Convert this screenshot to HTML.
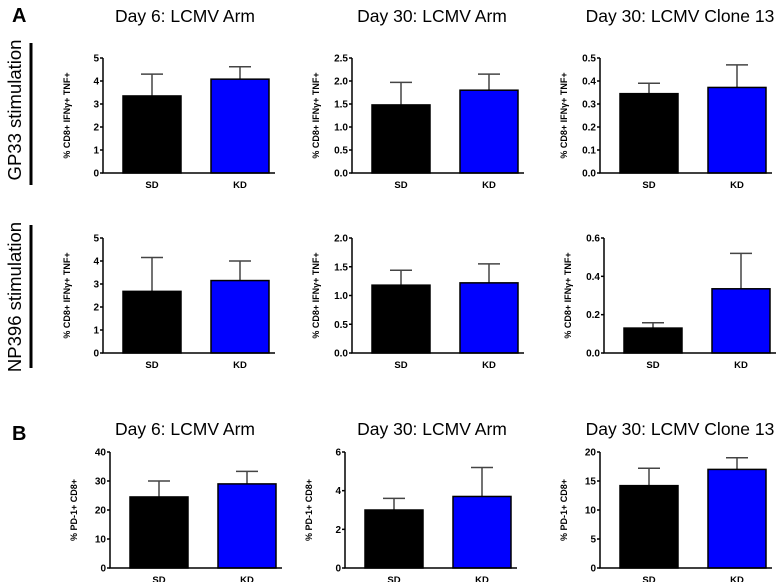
<!DOCTYPE html>
<html><head><meta charset="utf-8"><style>
body{margin:0;background:#fff;}
svg{display:block;font-family:"Liberation Sans",sans-serif;}
</style></head><body>
<svg width="778" height="582" viewBox="0 0 778 582">
<g id="root"></g>
</svg>
<script>
const categories = ["SD","KD"];
const titles = ["Day 6: LCMV Arm","Day 30: LCMV Arm","Day 30: LCMV Clone 13"];
const yMax = [5,2.5,0.5, 5,2.0,0.6, 40,6,20];
const yStep = [1,0.5,0.1, 1,0.5,0.2, 10,2,5];
const yDec = [0,1,1, 0,1,1, 0,0,0];
const meanSD = [3.35,1.48,0.345, 2.68,1.18,0.13, 24.5,3.0,14.2];
const meanKD = [4.08,1.8,0.372, 3.15,1.22,0.335, 29,3.7,17];
const errSD = [0.95,0.49,0.045, 1.47,0.26,0.028, 5.5,0.6,3.0];
const errKD = [0.54,0.35,0.098, 0.85,0.33,0.185, 4.3,1.5,2.0];
const yLabels = ["% CD8+ IFNγ+ TNF+","% CD8+ IFNγ+ TNF+","% CD8+ IFNγ+ TNF+","% CD8+ IFNγ+ TNF+","% CD8+ IFNγ+ TNF+","% CD8+ IFNγ+ TNF+","% PD-1+ CD8+","% PD-1+ CD8+","% PD-1+ CD8+"];

const NS="http://www.w3.org/2000/svg";
const root=document.getElementById('root');
function mk(tag,attrs,parent,text){const e=document.createElementNS(NS,tag);for(const k in attrs)e.setAttribute(k,attrs[k]);if(text!==undefined)e.textContent=text;(parent||root).appendChild(e);return e;}

let t;
t=mk('text',{x:12,y:22,'font-size':20,'font-weight':'bold'},root,'A');


t=mk('text',{x:12,y:440,'font-size':20,'font-weight':'bold'},root,'B');


const titleX=[185,432,680];
[0,1,2].forEach(c=>{
  t=mk('text',{x:titleX[c],y:22,'font-size':17.5,'text-anchor':'middle'},root,titles[c]);
  
  
  t=mk('text',{x:titleX[c],y:435,'font-size':17.5,'text-anchor':'middle'},root,titles[c]);
  
  
});
t=mk('text',{x:0,y:0,'font-size':18.5,'text-anchor':'middle',transform:'translate(21,110) rotate(-90)'},root,'GP33 stimulation');


t=mk('text',{x:0,y:0,'font-size':18.5,'text-anchor':'middle',transform:'translate(21,297) rotate(-90)'},root,'NP396 stimulation');


t=mk('line',{x1:31,y1:43,x2:31,y2:185,stroke:'#000','stroke-width':3});


t=mk('line',{x1:31,y1:225,x2:31,y2:368,stroke:'#000','stroke-width':3});



const axX=[103,352,600, 103,352,604, 110,345,600];
const topY=[58,58,58, 238,238,238, 452,452,452];
const zeroY=[173,173,173, 353,353,353, 568,568,568];

for(let i=0;i<9;i++){
  const g=mk('g',{});
  
  
  const x0=axX[i], y0=zeroY[i], y1=topY[i];
  const ys=v=>y0-(v/yMax[i])*(y0-y1);
  const means=[meanSD[i],meanKD[i]], errs=[errSD[i],errKD[i]];
  const offs=[20,108], colors=['#000','#0000ff'];
  for(let b=0;b<2;b++){
    const bx=x0+offs[b], w=58;
    const el=mk('line',{x1:bx+w/2,y1:ys(means[b]+errs[b]),x2:bx+w/2,y2:ys(means[b]),stroke:'#444','stroke-width':1.5},g);
    
    
    const cap=mk('line',{x1:bx+w/2-11,y1:ys(means[b]+errs[b]),x2:bx+w/2+11,y2:ys(means[b]+errs[b]),stroke:'#444','stroke-width':1.5},g);
    
    
    const r=mk('rect',{x:bx,y:ys(means[b]),width:w,height:y0-ys(means[b]),fill:colors[b],stroke:'#000','stroke-width':1.5},g);
    
    
    const lb=mk('text',{x:bx+w/2,y:y0+15,'font-size':9.5,'font-weight':'bold','text-anchor':'middle'},g,categories[b]);
    
    
  }
  const ax=mk('path',{d:`M${x0},${y1} V${y0} H${x0+172}`,fill:'none',stroke:'#000','stroke-width':1.5},g);
  
  
  const n=Math.round(yMax[i]/yStep[i]);
  for(let k=0;k<=n;k++){
    const v=k*yStep[i], yy=ys(v);
    const tk=mk('line',{x1:x0-3,y1:yy,x2:x0,y2:yy,stroke:'#000','stroke-width':1.5},g);
    
    
    const tl=mk('text',{x:x0-4,y:yy+3.5,'font-size':10,'font-weight':'bold','text-anchor':'end'},g,v.toFixed(yDec[i]));
    
    
  }
  const yl=mk('text',{x:0,y:0,'font-size':9,'font-weight':'bold','text-anchor':'middle',transform:`translate(${x0-33},${(y0+y1)/2}) rotate(-90)`},g,yLabels[i]);
  
  
}
</script>
</body></html>
